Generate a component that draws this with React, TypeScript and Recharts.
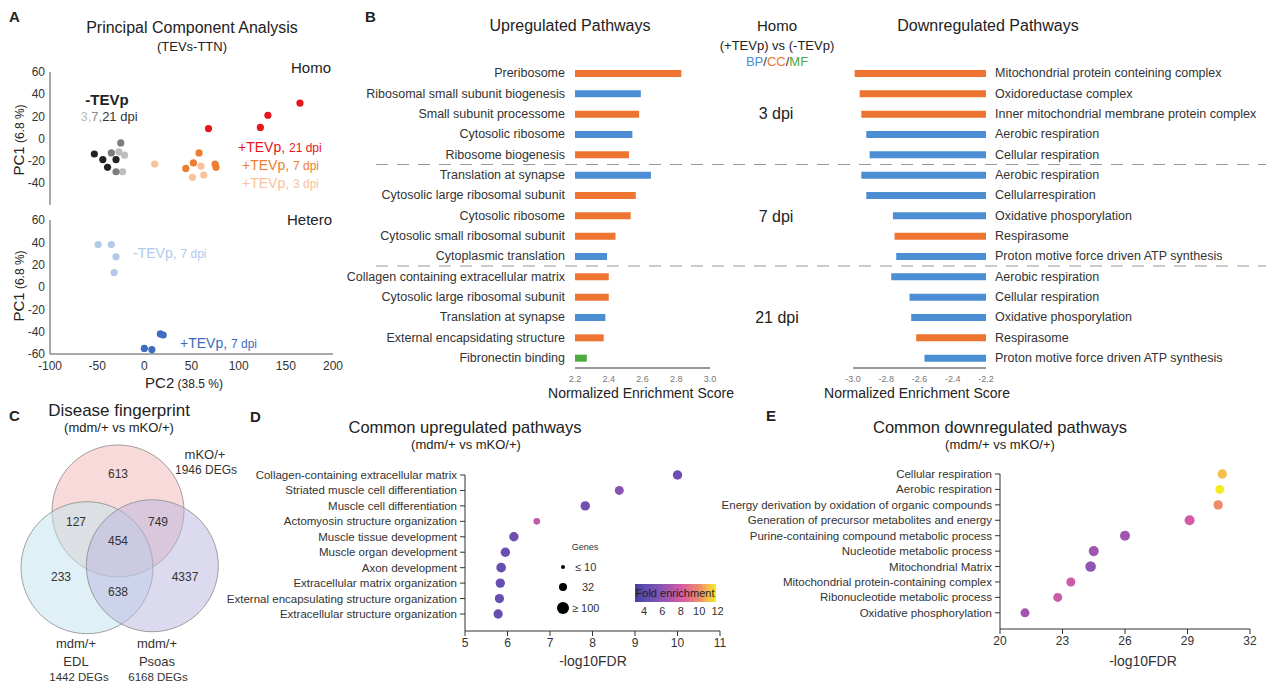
import React from "react";
import { ScatterChart, Scatter, BarChart, Bar, Cell, XAxis, YAxis, ZAxis } from "recharts";

const FONT = '"Liberation Sans", Arial, Helvetica, sans-serif';

// ---- A: PCA scores (PC2, PC1) ----
const homoMinus3 = [{ x: -27, y: -12 }, { x: -21, y: -15 }, { x: -23, y: -30 }];
const homoMinus7 = [{ x: -35, y: -13 }, { x: -30, y: -30 }, { x: -25, y: -4 }];
const homoMinus21 = [{ x: -53, y: -14 }, { x: -44, y: -19 }, { x: -39, y: -26 }, { x: -30, y: -19 }];
const homoPlus3 = [{ x: 11, y: -23 }, { x: 51, y: -35 }, { x: 60, y: -25 }, { x: 63, y: -33 }];
const homoPlus7 = [{ x: 44, y: -27 }, { x: 52, y: -22 }, { x: 58, y: -13 }, { x: 75, y: -23 }, { x: 76, y: -26 }];
const homoPlus21 = [{ x: 68, y: 9 }, { x: 123, y: 10 }, { x: 131, y: 21 }, { x: 165, y: 32 }];
const heteroMinus7 = [{ x: -49, y: 38 }, { x: -35, y: 38 }, { x: -30, y: 27 }, { x: -32, y: 13 }];
const heteroPlus7 = [{ x: 0, y: -55 }, { x: 8, y: -56 }, { x: 17, y: -42 }, { x: 20, y: -43 }];
const pc1Ticks = [-60, -40, -20, 0, 20, 40, 60];
const pc2Ticks = [-100, -50, 0, 50, 100, 150, 200];

// ---- B: GSEA normalized enrichment scores ----
const bUpTerms = [
  "Preribosome", "Ribosomal small subunit biogenesis", "Small subunit processome", "Cytosolic ribosome", "Ribosome biogenesis",
  "Translation at synapse", "Cytosolic large ribosomal subunit", "Cytosolic ribosome", "Cytosolic small ribosomal subunit", "Cytoplasmic translation",
  "Collagen containing extracellular matrix", "Cytosolic large ribosomal subunit", "Translation at synapse", "External encapsidating structure", "Fibronectin binding",
];
const bUpNes = [2.83, 2.59, 2.58, 2.54, 2.52, 2.65, 2.56, 2.53, 2.44, 2.39, 2.4, 2.4, 2.38, 2.37, 2.27];
const bUpOntology = ["CC", "BP", "CC", "BP", "CC", "BP", "CC", "CC", "CC", "BP", "CC", "CC", "BP", "CC", "MF"];
const bDownTerms = [
  "Mitochondrial protein conteining complex", "Oxidoreductase complex", "Inner mitochondrial membrane protein complex", "Aerobic respiration", "Cellular respiration",
  "Aerobic respiration", "Cellularrespiration", "Oxidative phosporylation", "Respirasome", "Proton motive force driven ATP synthesis",
  "Aerobic respiration", "Cellular respiration", "Oxidative phosporylation", "Respirasome", "Proton motive force driven ATP synthesis",
];
const bDownNes = [-2.99, -2.96, -2.95, -2.92, -2.9, -2.95, -2.92, -2.76, -2.75, -2.74, -2.77, -2.66, -2.65, -2.62, -2.57];
const bDownOntology = ["CC", "CC", "CC", "BP", "BP", "BP", "BP", "BP", "CC", "BP", "BP", "BP", "BP", "CC", "BP"];
const upNesTicks = [2.2, 2.4, 2.6, 2.8, 3.0];
const downNesTicks = [-3.0, -2.8, -2.6, -2.4, -2.2];

// ---- C: Venn ----
const vennSets = ["mKO/+", "mdm/+ EDL", "mdm/+ Psoas"];
const vennCentres = [{ x: 0, y: 0.44 }, { x: -0.47, y: -0.42 }, { x: 0.52, y: -0.39 }];
const vennCounts = [613, 127, 749, 454, 233, 4337, 638];
const vennTotals = [1946, 1442, 6168];

// ---- D: common upregulated ----
const dTerms = [
  "Collagen-containing extracellular matrix", "Striated muscle cell differentiation", "Muscle cell differentiation", "Actomyosin structure organization",
  "Muscle tissue development", "Muscle organ development", "Axon development", "Extracellular matrix organization",
  "External encapsulating structure organization", "Extracellular structure organization",
];
const dFdr = [10.0, 8.63, 7.83, 6.69, 6.15, 5.95, 5.85, 5.83, 5.81, 5.78];
const dGenes = [58, 52, 58, 24, 58, 58, 62, 58, 56, 56];
const dFold = [4.7, 5.7, 4.9, 7.4, 4.7, 4.6, 4.4, 4.5, 4.5, 4.5];
const dTicks = [5, 6, 7, 8, 9, 10, 11];

// ---- E: common downregulated ----
const eTerms = [
  "Cellular respiration", "Aerobic respiration", "Energy derivation by oxidation of organic compounds", "Generation of precursor metabolites and energy",
  "Purine-containing compound metabolic process", "Nucleotide metabolic process", "Mitochondrial Matrix", "Mitochondrial protein-containing complex",
  "Ribonucleotide metabolic process", "Oxidative phosphorylation",
];
const eFdr = [30.67, 30.55, 30.47, 29.1, 26.0, 24.5, 24.35, 23.4, 22.77, 21.2];
const eGenes = [58, 52, 58, 67, 67, 67, 76, 52, 52, 52];
const eFold = [11, 12, 10, 8, 6.5, 6.5, 6, 7.8, 7.8, 6.5];
const eTicks = [20, 23, 26, 29, 32];
const foldTicks = [4, 6, 8, 10, 12];

const ontologyColor: Record<string, string> = { BP: "#4C8ED3", CC: "#ED7431", MF: "#4BAA3C" };

const foldStops: [number, string][] = [
  [3, "#4a3e9c"], [4, "#5a4cb0"], [6, "#8f55b2"], [8, "#d45aa6"], [10, "#ef8b68"], [11, "#f6bf4c"], [12, "#f3ec1e"],
];
function hex(c: string) {
  return [1, 3, 5].map((i) => parseInt(c.slice(i, i + 2), 16));
}
function foldColor(v: number) {
  for (let i = 0; i < foldStops.length - 1; i++) {
    const [a, ca] = foldStops[i];
    const [b, cb] = foldStops[i + 1];
    if (v <= b) {
      const t = Math.max(0, (v - a) / (b - a));
      const A = hex(ca), B = hex(cb);
      return `rgb(${A.map((q, k) => Math.round(q + (B[k] - q) * t)).join(",")})`;
    }
  }
  return foldStops[foldStops.length - 1][1];
}

const bUpData = bUpTerms.map((t, i) => ({ row: i, nes: bUpNes[i], ont: bUpOntology[i] }));
const bDownData = bDownTerms.map((t, i) => ({ row: i, nes: bDownNes[i], ont: bDownOntology[i] }));
const dData = dTerms.map((t, i) => ({ pos: dTerms.length - 1 - i, fdr: dFdr[i], genes: dGenes[i], fold: dFold[i] }));
const eData = eTerms.map((t, i) => ({ pos: eTerms.length - 1 - i, fdr: eFdr[i], genes: eGenes[i], fold: eFold[i] }));

const dot = (r: number, color: string) => (p: any) => <circle cx={p.cx} cy={p.cy} r={r} fill={color} />;
const ring = (color: string) => (p: any) => (
  <circle cx={p.cx} cy={p.cy} r={66} fill={color} fillOpacity={0.5} stroke="#8a8a8a" strokeWidth={0.8} />
);

const termTick = (terms: string[], anchor: "end" | "start", size: number, reverse: boolean) => (p: any) => {
  const idx = reverse ? terms.length - 1 - p.payload.value : p.payload.value;
  return (
    <text x={p.x} y={p.y} dy={4} textAnchor={anchor} fontSize={size} fill="#333" fontFamily={FONT}>
      {terms[idx]}
    </text>
  );
};

const T = ({ x, y, s = 12, a = "middle", w = "normal", c = "#222", children }: any) => (
  <text x={x} y={y} fontSize={s} textAnchor={a} fontWeight={w} fill={c} fontFamily={FONT}>
    {children}
  </text>
);

const abs = (left: number, top: number): React.CSSProperties => ({ position: "absolute", left, top });

export default function App() {
  const foldX = (v: number) => 644 + (v - 4) * 9.2;
  return (
    <div style={{ position: "absolute", left: 0, top: 0, width: 1275, height: 684, background: "#fff", fontFamily: FONT, overflow: "hidden" }}>
      {/* A top: Homo */}
      <div style={abs(0, 60)}>
        <ScatterChart width={345} height={150} margin={{ top: 12, right: 12, bottom: 5, left: 10 }}>
          <XAxis type="number" dataKey="x" domain={[-100, 200]} tick={false} height={0} tickLine={false} stroke="#555" />
          <YAxis type="number" dataKey="y" domain={[-60, 60]} ticks={pc1Ticks} width={40} tickLine={false} tickSize={3} tickMargin={2} stroke="#555" tick={{ fontSize: 12, fill: "#333" }} />
          <Scatter data={homoMinus3} isAnimationActive={false} shape={dot(3.6, "#bdbdbd")} />
          <Scatter data={homoMinus7} isAnimationActive={false} shape={dot(3.6, "#7c7c7c")} />
          <Scatter data={homoMinus21} isAnimationActive={false} shape={dot(3.6, "#222")} />
          <Scatter data={homoPlus3} isAnimationActive={false} shape={dot(3.6, "#f8c39b")} />
          <Scatter data={homoPlus7} isAnimationActive={false} shape={dot(3.6, "#ef7d2f")} />
          <Scatter data={homoPlus21} isAnimationActive={false} shape={dot(3.6, "#e8141e")} />
        </ScatterChart>
      </div>
      {/* A bottom: Hetero */}
      <div style={abs(0, 208)}>
        <ScatterChart width={345} height={180} margin={{ top: 12, right: 12, bottom: 12, left: 10 }}>
          <XAxis type="number" dataKey="x" domain={[-100, 200]} ticks={pc2Ticks} height={22} tickLine={false} tickSize={3} tickMargin={4} stroke="#555" tick={{ fontSize: 12, fill: "#333" }} />
          <YAxis type="number" dataKey="y" domain={[-60, 60]} ticks={pc1Ticks} width={40} tickLine={false} tickSize={3} tickMargin={2} stroke="#555" tick={{ fontSize: 12, fill: "#333" }} />
          <Scatter data={heteroMinus7} isAnimationActive={false} shape={dot(3.6, "#b3c9ea")} />
          <Scatter data={heteroPlus7} isAnimationActive={false} shape={dot(3.6, "#3d6cc0")} />
        </ScatterChart>
      </div>

      {/* B up */}
      <div style={abs(340, 0)}>
        <BarChart layout="vertical" width={380} height={403} data={bUpData} margin={{ top: 63, right: 10, bottom: 5, left: 25 }}>
          <XAxis type="number" domain={[2.2, 3.0]} allowDataOverflow ticks={upNesTicks} height={30} tickLine={false} stroke="#333" tickFormatter={(v: number) => v.toFixed(1)} tick={{ fontSize: 9, fill: "#777" }} />
          <YAxis type="category" dataKey="row" width={210} axisLine={false} tickLine={false} tickSize={6} tickMargin={4} interval={0} tick={termTick(bUpTerms, "end", 12.5, false)} />
          <Bar dataKey="nes" barSize={7} isAnimationActive={false}>
            {bUpData.map((d, i) => <Cell key={i} fill={ontologyColor[d.ont]} />)}
          </Bar>
        </BarChart>
      </div>
      {/* B down */}
      <div style={abs(740, 0)}>
        <BarChart layout="vertical" width={535} height={403} data={bDownData} margin={{ top: 63, right: 9, bottom: 5, left: 113 }}>
          <XAxis type="number" domain={[-3.0, -2.2]} allowDataOverflow ticks={downNesTicks} height={30} tickLine={false} stroke="#333" tickFormatter={(v: number) => v.toFixed(1)} tick={{ fontSize: 9, fill: "#777" }} />
          <YAxis type="category" orientation="right" dataKey="row" width={280} axisLine={false} tickLine={false} tickSize={6} tickMargin={3} interval={0} tick={termTick(bDownTerms, "start", 12.5, false)} />
          <Bar dataKey="nes" barSize={7} isAnimationActive={false}>
            {bDownData.map((d, i) => <Cell key={i} fill={ontologyColor[d.ont]} />)}
          </Bar>
        </BarChart>
      </div>

      {/* C Venn */}
      <div style={abs(0, 430)}>
        <ScatterChart width={240} height={220} margin={{ top: 11, right: 23, bottom: 11, left: 19 }}>
          <XAxis type="number" dataKey="x" domain={[-1.5, 1.5]} hide />
          <YAxis type="number" dataKey="y" domain={[-1.5, 1.5]} hide />
          <Scatter name={vennSets[0]} data={[vennCentres[0]]} isAnimationActive={false} shape={ring("#f3b6b6")} />
          <Scatter name={vennSets[1]} data={[vennCentres[1]]} isAnimationActive={false} shape={ring("#bfe3ee")} />
          <Scatter name={vennSets[2]} data={[vennCentres[2]]} isAnimationActive={false} shape={ring("#b9b5dd")} />
        </ScatterChart>
      </div>

      {/* D */}
      <div style={abs(200, 410)}>
        <ScatterChart width={530} height={266} margin={{ top: 65, right: 10, bottom: 5, left: 20 }}>
          <XAxis type="number" dataKey="fdr" domain={[5, 11]} ticks={dTicks} height={40} tickSize={5} tickMargin={2} stroke="#333" tick={{ fontSize: 12, fill: "#333" }} />
          <YAxis type="number" dataKey="pos" domain={[-1.1, 9]} ticks={[0, 1, 2, 3, 4, 5, 6, 7, 8, 9]} interval={0} width={245} tickSize={5} tickMargin={3} stroke="#333" tick={termTick(dTerms, "end", 11.5, true)} />
          <ZAxis type="number" dataKey="genes" domain={[10, 100]} range={[20, 113]} />
          <Scatter data={dData} isAnimationActive={false}>
            {dData.map((d, i) => <Cell key={i} fill={foldColor(d.fold)} />)}
          </Scatter>
        </ScatterChart>
      </div>

      {/* E */}
      <div style={abs(700, 410)}>
        <ScatterChart width={575} height={264} margin={{ top: 64, right: 25, bottom: 5, left: 40 }}>
          <XAxis type="number" dataKey="fdr" domain={[20, 32]} ticks={eTicks} height={40} tickSize={5} tickMargin={2} stroke="#333" tick={{ fontSize: 12, fill: "#333" }} />
          <YAxis type="number" dataKey="pos" domain={[-1.05, 9]} ticks={[0, 1, 2, 3, 4, 5, 6, 7, 8, 9]} interval={0} width={260} tickSize={5} tickMargin={3} stroke="#333" tick={termTick(eTerms, "end", 11.5, true)} />
          <ZAxis type="number" dataKey="genes" domain={[10, 100]} range={[20, 113]} />
          <Scatter data={eData} isAnimationActive={false}>
            {eData.map((d, i) => <Cell key={i} fill={foldColor(d.fold)} />)}
          </Scatter>
        </ScatterChart>
      </div>

      {/* text, guides and legends */}
      <svg width={1275} height={684} style={{ position: "absolute", left: 0, top: 0, pointerEvents: "none" }}>
        <defs>
          <linearGradient id="foldGrad" x1="0" x2="1" y1="0" y2="0">
            {foldStops.map(([v, c], i) => (
              <stop key={i} offset={`${((foldX(v) - 635) / (716 - 635)) * 100}%`} stopColor={c} />
            ))}
          </linearGradient>
        </defs>

        {/* A */}
        <T x={9} y={22} s={15} a="start" w="bold">A</T>
        <T x={192} y={33} s={16}>Principal Component Analysis</T>
        <T x={192} y={51} s={13}>(TEVs-TTN)</T>
        <T x={331} y={73} s={15} a="end">Homo</T>
        <T x={332} y={225} s={15} a="end">Hetero</T>
        <T x={107} y={105} s={15} w="bold">-TEVp</T>
        <text x={109} y={121} fontSize={13} textAnchor="middle" fontFamily={FONT}>
          <tspan fill="#bdbdbd">3,</tspan><tspan fill="#8a8a8a">7,</tspan><tspan fill="#333">21 dpi</tspan>
        </text>
        <text x={238} y={152} fontSize={14} fill="#e8141e" fontFamily={FONT}>+TEVp, <tspan fontSize={12}>21 dpi</tspan></text>
        <text x={242} y={170} fontSize={14} fill="#ef7d2f" fontFamily={FONT}>+TEVp, <tspan fontSize={12}>7 dpi</tspan></text>
        <text x={242} y={188} fontSize={14} fill="#f8c39b" fontFamily={FONT}>+TEVp, <tspan fontSize={12}>3 dpi</tspan></text>
        <text x={133} y={258} fontSize={14} fill="#b3c9ea" fontFamily={FONT}>-TEVp, <tspan fontSize={12}>7 dpi</tspan></text>
        <text x={180} y={348} fontSize={14} fill="#3d6cc0" fontFamily={FONT}>+TEVp, <tspan fontSize={12}>7 dpi</tspan></text>
        <text transform="translate(24,140) rotate(-90)" textAnchor="middle" fill="#222" fontFamily={FONT}>
          <tspan fontSize={15}>PC1</tspan><tspan fontSize={12}> (6.8 %)</tspan>
        </text>
        <text transform="translate(24,286) rotate(-90)" textAnchor="middle" fill="#222" fontFamily={FONT}>
          <tspan fontSize={15}>PC1</tspan><tspan fontSize={12}> (6.8 %)</tspan>
        </text>
        <text x={184} y={388} textAnchor="middle" fill="#222" fontFamily={FONT}>
          <tspan fontSize={15}>PC2</tspan><tspan fontSize={12}> (38.5 %)</tspan>
        </text>

        {/* B */}
        <T x={365} y={22} s={15} a="start" w="bold">B</T>
        <T x={570} y={31} s={16}>Upregulated Pathways</T>
        <T x={988} y={31} s={16}>Downregulated Pathways</T>
        <T x={777} y={31} s={15}>Homo</T>
        <T x={777} y={50} s={13}>(+TEVp) vs (-TEVp)</T>
        <text x={777} y={66} fontSize={13} textAnchor="middle" fontFamily={FONT}>
          <tspan fill={ontologyColor.BP}>BP</tspan><tspan fill="#333">/</tspan><tspan fill={ontologyColor.CC}>CC</tspan><tspan fill="#333">/</tspan><tspan fill={ontologyColor.MF}>MF</tspan>
        </text>
        <T x={776} y={119} s={16}>3 dpi</T>
        <T x={776} y={222} s={16}>7 dpi</T>
        <T x={777} y={323} s={16}>21 dpi</T>
        <line x1={376} x2={1266} y1={164.5} y2={164.5} stroke="#9a9a9a" strokeWidth={1.2} strokeDasharray="12 9" />
        <line x1={376} x2={1266} y1={266} y2={266} stroke="#9a9a9a" strokeWidth={1.2} strokeDasharray="12 9" />
        <T x={641} y={398} s={14}>Normalized Enrichment Score</T>
        <T x={917} y={398} s={14}>Normalized Enrichment Score</T>

        {/* C */}
        <T x={9} y={421} s={15} a="start" w="bold">C</T>
        <T x={119} y={416} s={17}>Disease fingerprint</T>
        <T x={119} y={432} s={13}>(mdm/+ vs mKO/+)</T>
        <T x={118} y={478} s={12} c="#333">{vennCounts[0]}</T>
        <T x={76} y={526} s={12} c="#333">{vennCounts[1]}</T>
        <T x={158} y={526} s={12} c="#333">{vennCounts[2]}</T>
        <T x={118} y={545} s={12} c="#333">{vennCounts[3]}</T>
        <T x={61} y={581} s={12} c="#333">{vennCounts[4]}</T>
        <T x={185} y={581} s={12} c="#333">{vennCounts[5]}</T>
        <T x={118} y={596} s={12} c="#333">{vennCounts[6]}</T>
        <T x={205} y={459} s={13} c="#333">mKO/+</T>
        <T x={206} y={474} s={12} c="#333">{vennTotals[0]} DEGs</T>
        <T x={76} y={648} s={13} c="#333">mdm/+</T>
        <T x={76} y={666} s={13} c="#333">EDL</T>
        <T x={79} y={681} s={11.5} c="#333">{vennTotals[1]} DEGs</T>
        <T x={157} y={648} s={13} c="#333">mdm/+</T>
        <T x={157} y={666} s={13} c="#333">Psoas</T>
        <T x={158} y={681} s={11.5} c="#333">{vennTotals[2]} DEGs</T>

        {/* D */}
        <T x={250} y={422} s={15} a="start" w="bold">D</T>
        <T x={465} y={433} s={16.5}>Common upregulated pathways</T>
        <T x={466} y={449} s={13}>(mdm/+ vs mKO/+)</T>
        <T x={593} y={666} s={14} c="#333">-log10FDR</T>
        <T x={585} y={550} s={9} c="#333">Genes</T>
        <circle cx={563} cy={567} r={2} fill="#000" />
        <circle cx={563} cy={587} r={4} fill="#000" />
        <circle cx={563} cy={608} r={6} fill="#000" />
        <T x={575} y={571} s={11} a="start" c="#333">≤ 10</T>
        <T x={582} y={591} s={11} a="start" c="#333">32</T>
        <T x={572} y={612} s={11} a="start" c="#333">≥ 100</T>
        <rect x={635} y={584} width={81} height={18} fill="url(#foldGrad)" />
        <T x={675} y={597} s={11} c="#222">Fold enrichment</T>
        {foldTicks.map((v) => (
          <T key={v} x={foldX(v)} y={615} s={11} c="#333">{v}</T>
        ))}

        {/* E */}
        <T x={766} y={421} s={15} a="start" w="bold">E</T>
        <T x={1000} y={433} s={16.5}>Common downregulated pathways</T>
        <T x={1000} y={449} s={13}>(mdm/+ vs mKO/+)</T>
        <T x={1143} y={666} s={14} c="#333">-log10FDR</T>
      </svg>
    </div>
  );
}
